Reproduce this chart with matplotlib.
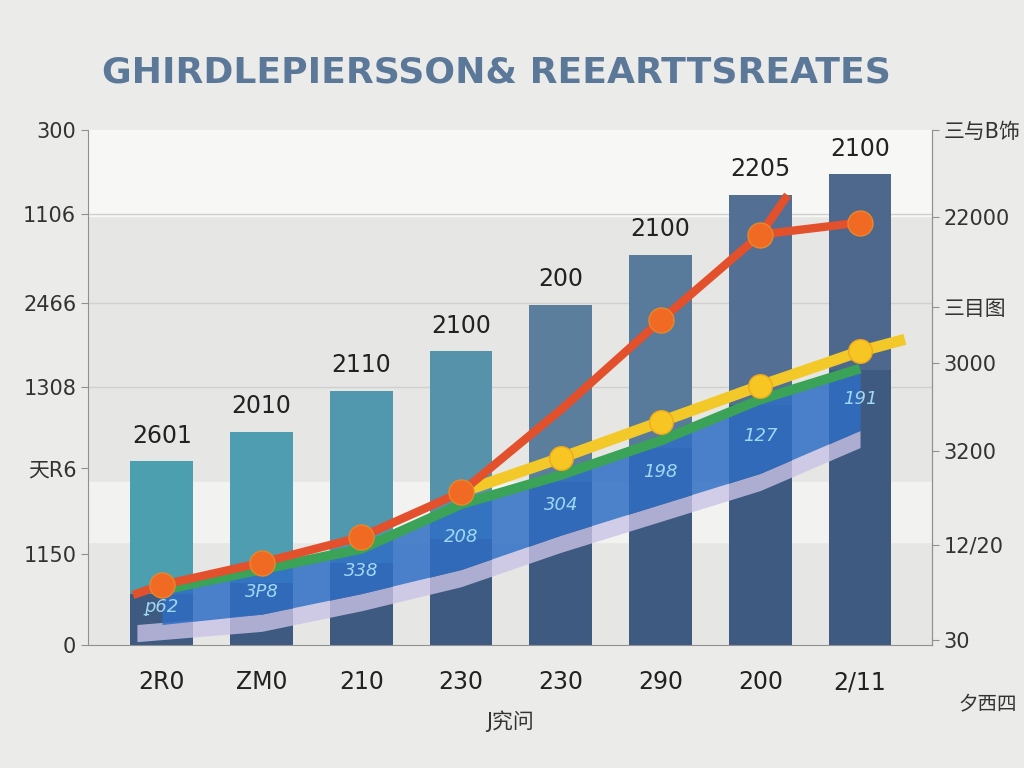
import matplotlib
matplotlib.use("Agg")
import matplotlib.pyplot as plt
import numpy as np

plt.rcParams['font.family'] = ['DejaVu Sans', 'Noto Sans CJK SC']

# data (left-axis units, 0..300)
x_labels = ['2R0', 'ZM0', '210', '230', '230', '290', '200', '2/11']
bar_values = [107, 124, 148, 171, 198, 227, 262, 274]
bar_dark = [30, 36, 48, 62, 95, 115, 140, 160]
bar_labels = ['2601', '2010', '2110', '2100', '200', '2100', '2205', '2100']
bar_colors = ['#4b9fae', '#4e9db0', '#5197ad', '#5693ab', '#5b7e9d', '#587a9b', '#536f93', '#4d678d']

red_values = [35, 48, 63, 89, 137, 189, 239, 246]
yellow_x = [3, 4, 5, 6, 7, 7.45]
yellow_values = [89, 109, 130, 151, 171, 178]
green_values = [32, 44, 56, 82, 99, 119, 143, 161]
band_low = [12, 18, 30, 44, 64, 82, 100, 125]
band_labels = ['ꝑ62', '3P8', '338', '208', '304', '198', '127', '191']

left_ticks = [0, 53, 103, 150, 199, 251, 300]
left_labels = ['0', '1150', '天R6', '1308', '2466', '1106', '300']
right_ticks = [3, 59, 114, 166, 199, 252, 303]
right_labels = ['30', '12/20', '3200', '3000', '三目图', '22000', '三与B饰']

fig = plt.figure(figsize=(10.24, 7.68), dpi=100)
fig.patch.set_facecolor('#ebebea')
ax = fig.add_axes([0.086, 0.160, 0.824, 0.671])
ax.set_facecolor('#e6e6e5')

x = np.arange(len(x_labels))
ax.set_xlim(-0.74, 7.72)
ax.set_ylim(0, 300)

# soft background bands
ax.axhspan(250, 300, color='#f7f7f6', zorder=0)
ax.axhspan(60, 95, color='#f2f2f1', zorder=0)
for t in [150, 199, 251]:
    ax.axhline(t, color='#d0d0d0', lw=1, zorder=0.5)

ax.bar(x, bar_values, width=0.63, color=bar_colors, zorder=2)
ax.bar(x, bar_dark, width=0.63, color='#3f5a80', zorder=2.1)
for xi, v, lab in zip(x, bar_values, bar_labels):
    ax.text(xi, v + 8, lab, ha='center', va='bottom', fontsize=17, color='#222222', zorder=6)

# blue band under the lines
ax.fill_between(x + np.array([-0.25] + [0] * 7), np.array(band_low) - 10, band_low,
                color='#c9c3e6', alpha=0.8, zorder=2.5, lw=0)
ax.fill_between(x, band_low, np.array(green_values) - 2, color='#2f6ec4', alpha=0.85, zorder=2.6, lw=0)
for xi, lo, hi, lab in zip(x, band_low, green_values, band_labels):
    ax.text(xi, (lo + hi) / 2, lab, ha='center', va='center', fontsize=13,
            color='#9fd8f2', style='italic', zorder=6)

ax.plot(x, green_values, color='#3aa357', lw=7, zorder=3, solid_capstyle='butt')
ax.plot(yellow_x, yellow_values, color='#f3c92a', lw=8, zorder=3.2, solid_capstyle='butt')
ax.plot(yellow_x[1:5], yellow_values[1:5], 'o', ms=17, color='#f7c623',
        markeredgecolor='#f0a81e', zorder=5)
ax.plot(np.concatenate(([-0.25], x)), [30] + red_values, color='#e3502c', lw=6, zorder=4)
ax.plot([6, 6.25], [239, 260], color='#e3502c', lw=6, zorder=4)
ax.plot([0, 1, 2, 3, 5, 6, 7], [red_values[i] for i in [0, 1, 2, 3, 5, 6, 7]], 'o', ms=18,
        color='#f06a24', markeredgecolor='#e8882a', zorder=5)

for s in ['top']:
    ax.spines[s].set_visible(False)
for s in ['left', 'right', 'bottom']:
    ax.spines[s].set_color('#909090')

ax.set_xticks(x)
ax.set_xticklabels(x_labels, fontsize=17, color='#222222')
ax.tick_params(axis='x', length=0, pad=18)
ax.set_yticks(left_ticks)
ax.set_yticklabels(left_labels, fontsize=15, color='#333333')
ax.tick_params(axis='y', color='#909090', length=5)
ax.set_xlabel('J究问', fontsize=15, color='#333333', labelpad=12)

ax2 = ax.twinx()
ax2.set_ylim(0, 300)
ax2.set_yticks(right_ticks)
ax2.set_yticklabels(right_labels, fontsize=15, color='#333333')
ax2.tick_params(axis='y', color='#909090', length=5)
for s in ['top', 'left', 'bottom']:
    ax2.spines[s].set_visible(False)
ax2.spines['right'].set_color('#909090')

fig.text(0.485, 0.906, 'GHIRDLEPIERSSON& REEARTTSREATES', ha='center', va='center',
         fontsize=26, fontweight='bold', color='#5b7899')
fig.text(0.965, 0.082, '夕西四', ha='center', va='center', fontsize=14, color='#333333')

fig.savefig('out.png', dpi=100, facecolor=fig.get_facecolor())
